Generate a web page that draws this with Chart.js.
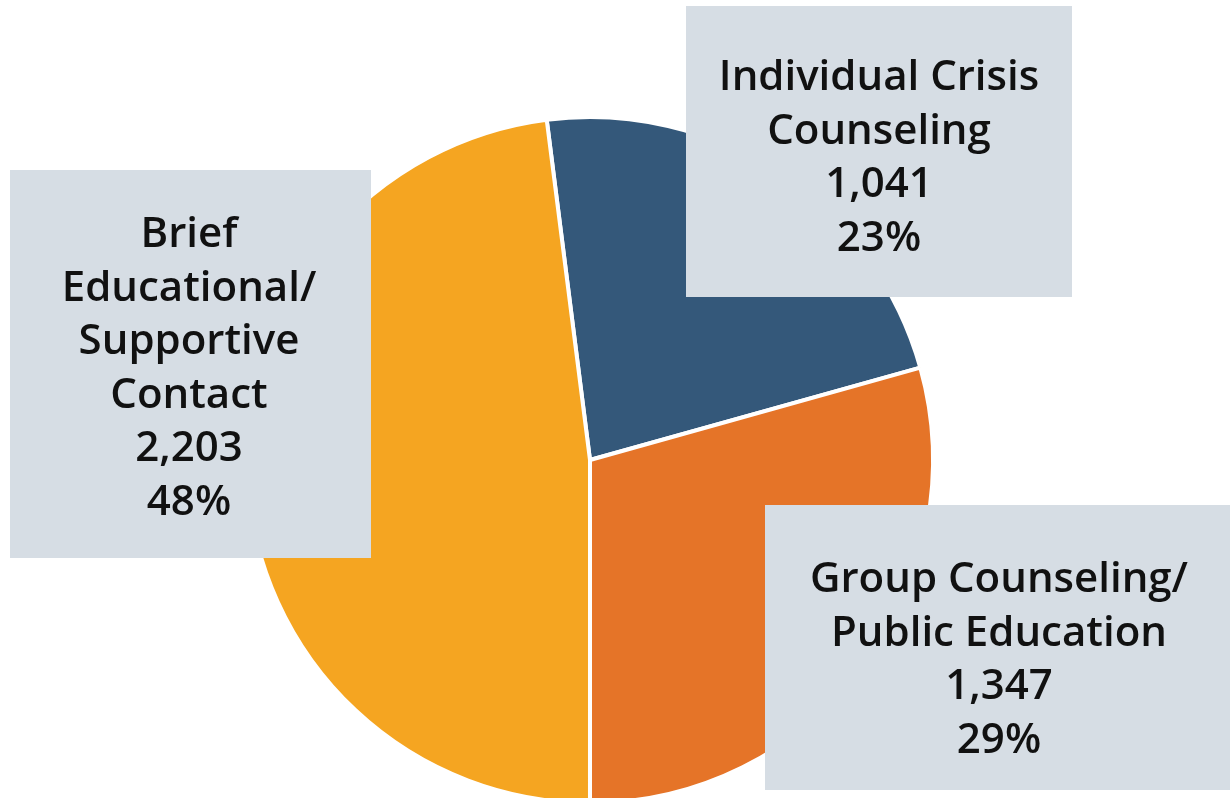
<!DOCTYPE html>
<html>
<head>
<meta charset="utf-8">
<script src="https://cdn.jsdelivr.net/npm/chart.js@4.4.1/dist/chart.umd.min.js"></script>
<style>
  html, body { margin: 0; padding: 0; background: #fff; overflow: hidden; }
  #wrap { width: 1230px; height: 798px; overflow: hidden; }
</style>
</head>
<body>
<div id="wrap"><canvas id="chart" width="1230" height="820"></canvas></div>
<script>
// Categories (label lines) and values
const categories = [
    ['Individual Crisis', 'Counseling'],
    ['Group Counseling/', 'Public Education'],
    ['Brief', 'Educational/', 'Supportive', 'Contact']
];
const counts = [1041, 1347, 2203];
const sliceColors = ['#34587a', '#e57428', '#f5a521'];

// Label boxes: rectangle + text centre + first baseline
const labelBoxes = [
    { x: 686, y: 6, w: 386, h: 291, cx: 879, top: 90 },
    { x: 765, y: 505, w: 465, h: 285, cx: 999, top: 592 },
    { x: 10, y: 170, w: 361, h: 388, cx: 189, top: 247 }
];
const lineGap = 53.5;

const total = counts.reduce((a, b) => a + b, 0);

const boxLabels = {
    id: 'boxLabels',
    afterDatasetsDraw(chart) {
        const ctx = chart.ctx;
        ctx.save();
        ctx.font = '600 42px "Open Sans", sans-serif';
        ctx.textAlign = 'center';
        ctx.textBaseline = 'alphabetic';
        counts.forEach((v, i) => {
            const b = labelBoxes[i];
            ctx.fillStyle = '#d6dde4';
            ctx.fillRect(b.x, b.y, b.w, b.h);
            const lines = categories[i].concat([
                v.toLocaleString('en-US'),
                Math.round(v / total * 100) + '%'
            ]);
            ctx.fillStyle = '#111111';
            lines.forEach((t, k) => {
                ctx.fillText(t, b.cx, b.top + k * lineGap);
            });
        });
        ctx.restore();
    }
};

new Chart(document.getElementById('chart').getContext('2d'), {
    type: 'pie',
    data: {
        labels: categories.map(c => c.join(' ')),
        datasets: [{
            data: counts,
            backgroundColor: sliceColors,
            borderColor: '#ffffff',
            borderWidth: 4
        }]
    },
    options: {
        responsive: false,
        animation: false,
        rotation: -7.25,
        layout: { padding: { left: 245, right: 295, top: 115, bottom: 15 } },
        plugins: {
            legend: { display: false },
            tooltip: { enabled: false }
        }
    },
    plugins: [boxLabels]
});
</script>
</body>
</html>
